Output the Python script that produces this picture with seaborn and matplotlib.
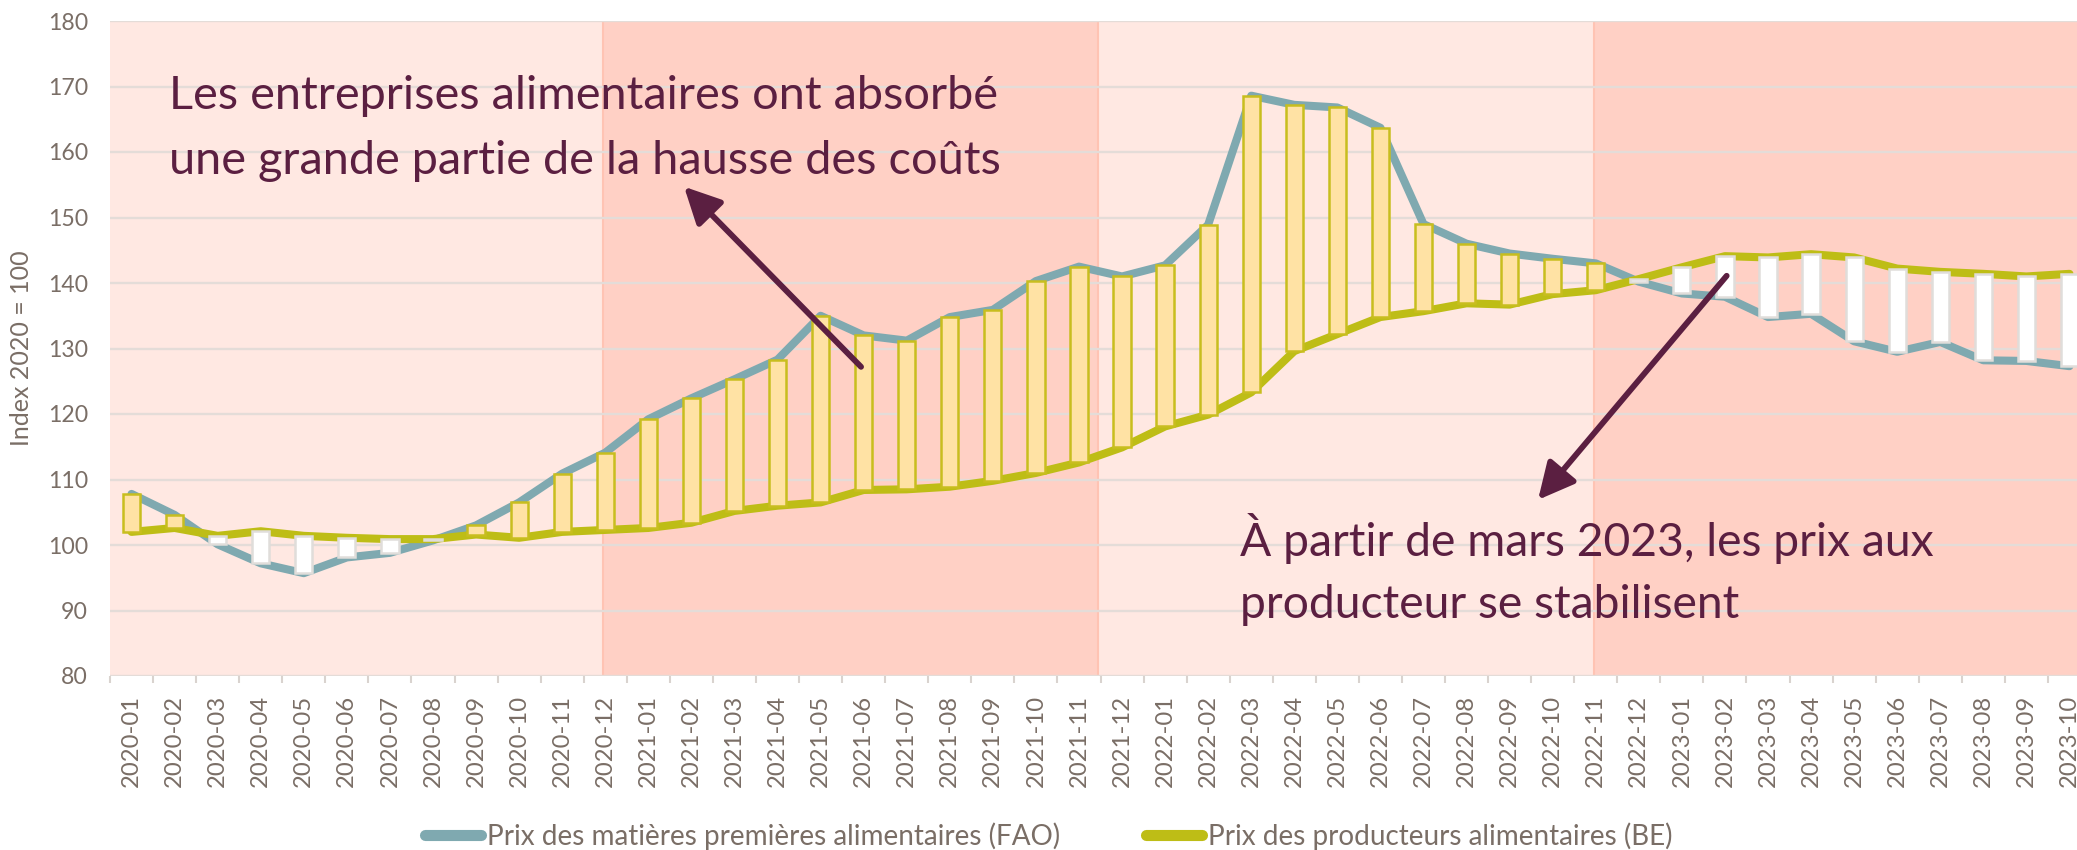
import matplotlib
matplotlib.use("Agg")
import matplotlib.pyplot as plt
import seaborn as sns
import pandas as pd
import numpy as np
from matplotlib.lines import Line2D

# ---------------- data ----------------
months = ["2020-01", "2020-02", "2020-03", "2020-04", "2020-05", "2020-06",
          "2020-07", "2020-08", "2020-09", "2020-10", "2020-11", "2020-12",
          "2021-01", "2021-02", "2021-03", "2021-04", "2021-05", "2021-06",
          "2021-07", "2021-08", "2021-09", "2021-10", "2021-11", "2021-12",
          "2022-01", "2022-02", "2022-03", "2022-04", "2022-05", "2022-06",
          "2022-07", "2022-08", "2022-09", "2022-10", "2022-11", "2022-12",
          "2023-01", "2023-02", "2023-03", "2023-04", "2023-05", "2023-06",
          "2023-07", "2023-08", "2023-09", "2023-10"]

fao = [107.8, 104.6, 100.1, 97.2, 95.7, 98.1, 98.8, 100.7, 103.0, 106.5, 110.9, 114.1,
       119.2, 122.4, 125.3, 128.3, 135.0, 132.0, 131.2, 134.8, 135.9, 140.3, 142.5, 141.0,
       142.7, 148.9, 168.6, 167.2, 166.8, 163.7, 149.0, 146.0, 144.5, 143.7, 143.0, 140.2,
       138.4, 137.9, 134.8, 135.3, 131.1, 129.5, 131.0, 128.2, 128.1, 127.3]

be = [102.0, 102.6, 101.4, 102.1, 101.4, 101.1, 100.9, 100.9, 101.6, 101.1, 102.0, 102.3,
      102.6, 103.4, 105.2, 106.0, 106.5, 108.4, 108.5, 108.9, 109.8, 111.0, 112.6, 114.9,
      118.1, 119.9, 123.3, 129.6, 132.2, 134.8, 135.7, 136.9, 136.7, 138.3, 138.9, 140.6,
      142.4, 144.1, 143.9, 144.4, 143.9, 142.2, 141.7, 141.4, 141.0, 141.4]

y_ticks = [80, 90, 100, 110, 120, 130, 140, 150, 160, 170, 180]
band_edges = [-0.5, 10.95, 22.45, 33.95, 45.5]

series_names = ["Prix des matières premières alimentaires (FAO)",
                "Prix des producteurs alimentaires (BE)"]
y_label = "Index 2020 = 100"
note_1 = ["Les entreprises alimentaires ont absorbé",
          "une grande partie de la hausse des coûts"]
note_2 = ["À partir de mars 2023, les prix aux",
          "producteur se stabilisent"]

# ---------------- style ----------------
teal = "#7FA9B0"
olive = "#BEBD16"
bar_yellow = "#FFE2A4"
bar_yellow_edge = "#C8BE1E"
bar_white_edge = "#E0DDDA"
band_light = "#FFE8E2"
band_dark = "#FFD0C5"
band_line = "#FFC3B3"
grid_col = "#E4DCD8"
tick_col = "#7A6E66"
note_col = "#5B1F41"

sns.set_theme(style="white")
plt.rcParams['font.family'] = ['Lato', 'DejaVu Sans']

W, H = 2077, 850
fig = plt.figure(figsize=(W / 100, H / 100), dpi=100)
ax = fig.add_axes([110 / W, 174 / H, 1981 / W, 655 / H])
renderer = fig.canvas.get_renderer()


def size_for(s, target_px, size0=20):
    t = fig.text(0, 0, s, fontsize=size0)
    w = t.get_window_extent(renderer).width
    t.remove()
    return size0 * target_px / w


df = pd.DataFrame({"x": np.arange(len(months)), "fao": fao, "be": be})

# background bands
for k in range(len(band_edges) - 1):
    ax.axvspan(band_edges[k], band_edges[k + 1],
               color=band_light if k % 2 == 0 else band_dark, lw=0, zorder=0.1)
for e in band_edges[1:-1]:
    ax.axvline(e, color=band_line, lw=1.5, zorder=0.2)

ax.set_axisbelow(True)
ax.yaxis.grid(True, color=grid_col, lw=1.7, zorder=0.5)
ax.xaxis.grid(False)

# lines
sns.lineplot(data=df, x="x", y="fao", ax=ax, color=teal, lw=5.8, zorder=2,
             solid_capstyle="round", solid_joinstyle="round", legend=False)
sns.lineplot(data=df, x="x", y="be", ax=ax, color=olive, lw=5.8, zorder=2.1,
             solid_capstyle="round", solid_joinstyle="round", legend=False)

# up/down bars
fa = df["fao"].to_numpy()
ba = df["be"].to_numpy()
bottoms = np.minimum(fa, ba)
heights = np.abs(fa - ba)
up = fa > ba
ax.bar(df["x"], heights, bottom=bottoms, width=0.4,
       color=np.where(up, bar_yellow, "white"),
       edgecolor=np.where(up, bar_yellow_edge, bar_white_edge),
       linewidth=1.8, zorder=3)

# axes
xt_size = size_for("2020-01", 92)
yt_size = size_for("180", 40)
ax.set_xlim(-0.5, 45.5)
ax.set_ylim(80, 180)
ax.set_xticks(df["x"])
ax.set_xticklabels(months, rotation=90, fontsize=xt_size, color=tick_col)
ax.set_xticks(np.arange(-0.5, 46, 1), minor=True)
ax.tick_params(axis="x", which="major", length=0, pad=13.5)
ax.tick_params(axis="x", which="minor", length=5, width=1.5, color="#D9D3CF",
               bottom=True)
ax.set_yticks(y_ticks)
ax.set_yticklabels([str(v) for v in y_ticks], fontsize=yt_size, color=tick_col)
ax.tick_params(axis="y", length=0, pad=16)
for s in ax.spines.values():
    s.set_visible(False)
ax.set_xlabel("")
ax.set_ylabel(y_label, fontsize=size_for(y_label, 196), color=tick_col)
ax.yaxis.set_label_coords(-0.039, 0.5)


# notes
def fit_lines(x, ys, lines, target_px):
    size = size_for(lines[0], target_px)
    for yy, s in zip(ys, lines):
        ax.text(x, yy, s, fontsize=size, color=note_col,
                va="baseline", ha="left", zorder=6)


fit_lines(0.87, [166.6, 156.6], note_1, 833)
fit_lines(25.74, [98.3, 88.9], note_2, 697)

arrow_kw = dict(arrowstyle="-|>,head_length=1.1,head_width=0.55",
                color=note_col, lw=4.2, shrinkA=0, shrinkB=0, mutation_scale=20)
ax.annotate("", xy=(12.83, 154.7), xytext=(16.94, 127.2),
            arrowprops=arrow_kw, zorder=5)
ax.annotate("", xy=(32.66, 106.9), xytext=(37.04, 141.1),
            arrowprops=arrow_kw, zorder=5)

# legend
lg_size = size_for(series_names[0], 574)
em = lg_size * 100 / 72
handles = [Line2D([0], [0], color=teal, lw=8, solid_capstyle="round"),
           Line2D([0], [0], color=olive, lw=8, solid_capstyle="round")]
fig.legend(handles, series_names, loc="center", bbox_to_anchor=(0.5048, 0.016),
           ncol=2, frameon=False, fontsize=lg_size, handlelength=56 / em,
           handletextpad=6 / em, columnspacing=86 / em, labelcolor=tick_col)

fig.savefig("out.png", dpi=100)
